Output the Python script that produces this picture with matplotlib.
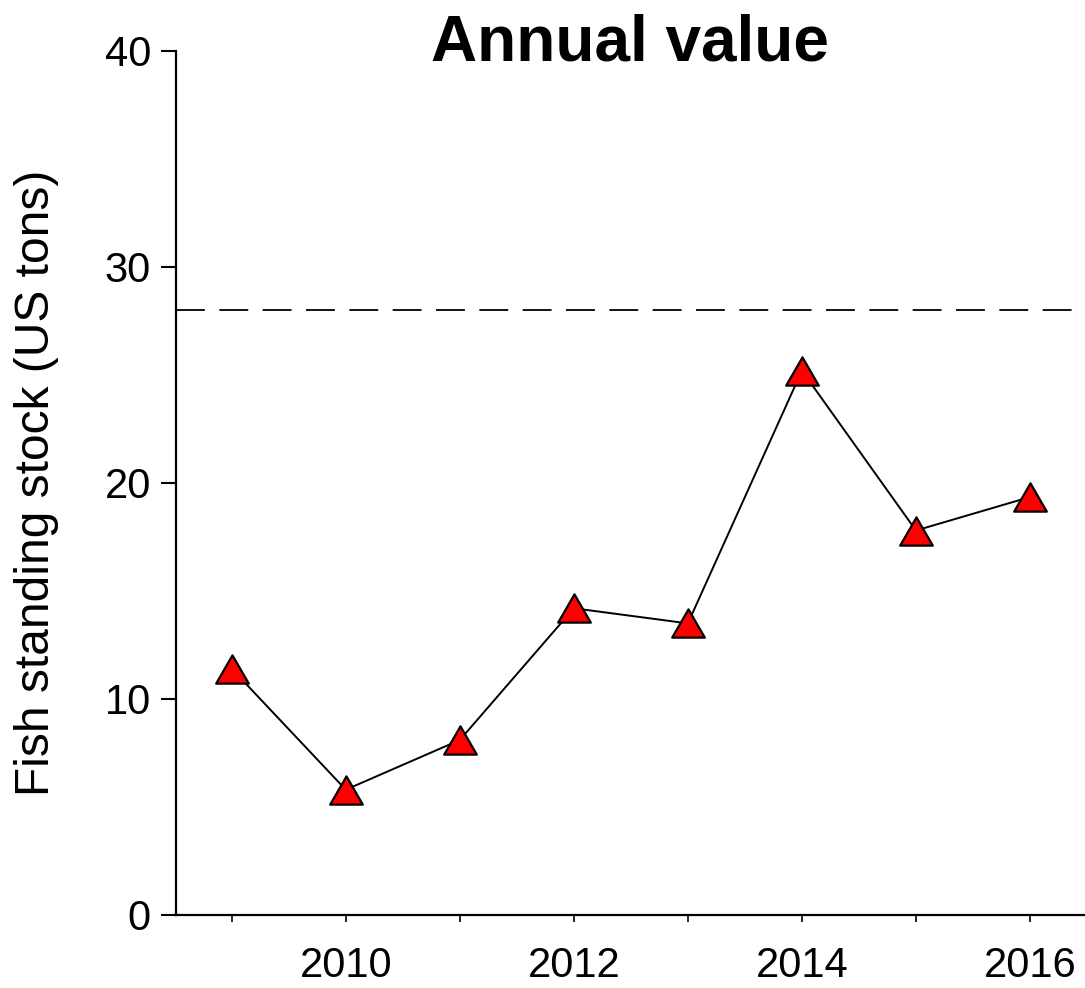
import matplotlib
matplotlib.use("Agg")
import matplotlib.pyplot as plt
from matplotlib.path import Path

years = [2009, 2010, 2011, 2012, 2013, 2014, 2015, 2016]
stock = [11.4, 5.8, 8.1, 14.2, 13.5, 25.2, 17.8, 19.35]
target = 28

plt.rcParams['font.family'] = ['Liberation Sans', 'DejaVu Sans']

# equilateral triangle, centred on its bounding box
tri = Path([(0, 0.866), (-1, -0.866), (1, -0.866), (0, 0.866)],
           [Path.MOVETO, Path.LINETO, Path.LINETO, Path.CLOSEPOLY])

fig = plt.figure(figsize=(10.85, 9.88), dpi=100)
ax = fig.add_axes([0.1622, 0.0739, 0.8368, 0.8745])

ax.axhline(target, color='black', lw=1.3, dashes=(16, 8))
ax.plot(years, stock, color='black', lw=1.4, marker=tri, ms=23.5,
        mfc='red', mec='black', mew=1.6, zorder=3)

ax.set_xlim(2008.511, 2016.473)
ax.set_ylim(0, 40)

ax.set_xticks([2010, 2012, 2014, 2016])
ax.set_xticks([2009, 2011, 2013, 2015], minor=True)
ax.set_yticks([0, 10, 20, 30, 40])

for s in ['top', 'right']:
    ax.spines[s].set_visible(False)
for s in ['left', 'bottom']:
    ax.spines[s].set_linewidth(1.6)

ax.tick_params(axis='x', which='both', direction='out', length=5, width=1.2,
               labelsize=30, pad=17)
ax.tick_params(axis='y', direction='out', length=11, width=1.5,
               labelsize=30, pad=7)

ax.set_ylabel('Fish standing stock (US tons)', fontsize=34.5)
ax.yaxis.set_label_coords(-0.129, 0.5)

fig.text(0.581, 0.9383, 'Annual value', fontsize=46, fontweight='bold',
         ha='center', va='baseline')

fig.savefig('out.png', dpi=100)
